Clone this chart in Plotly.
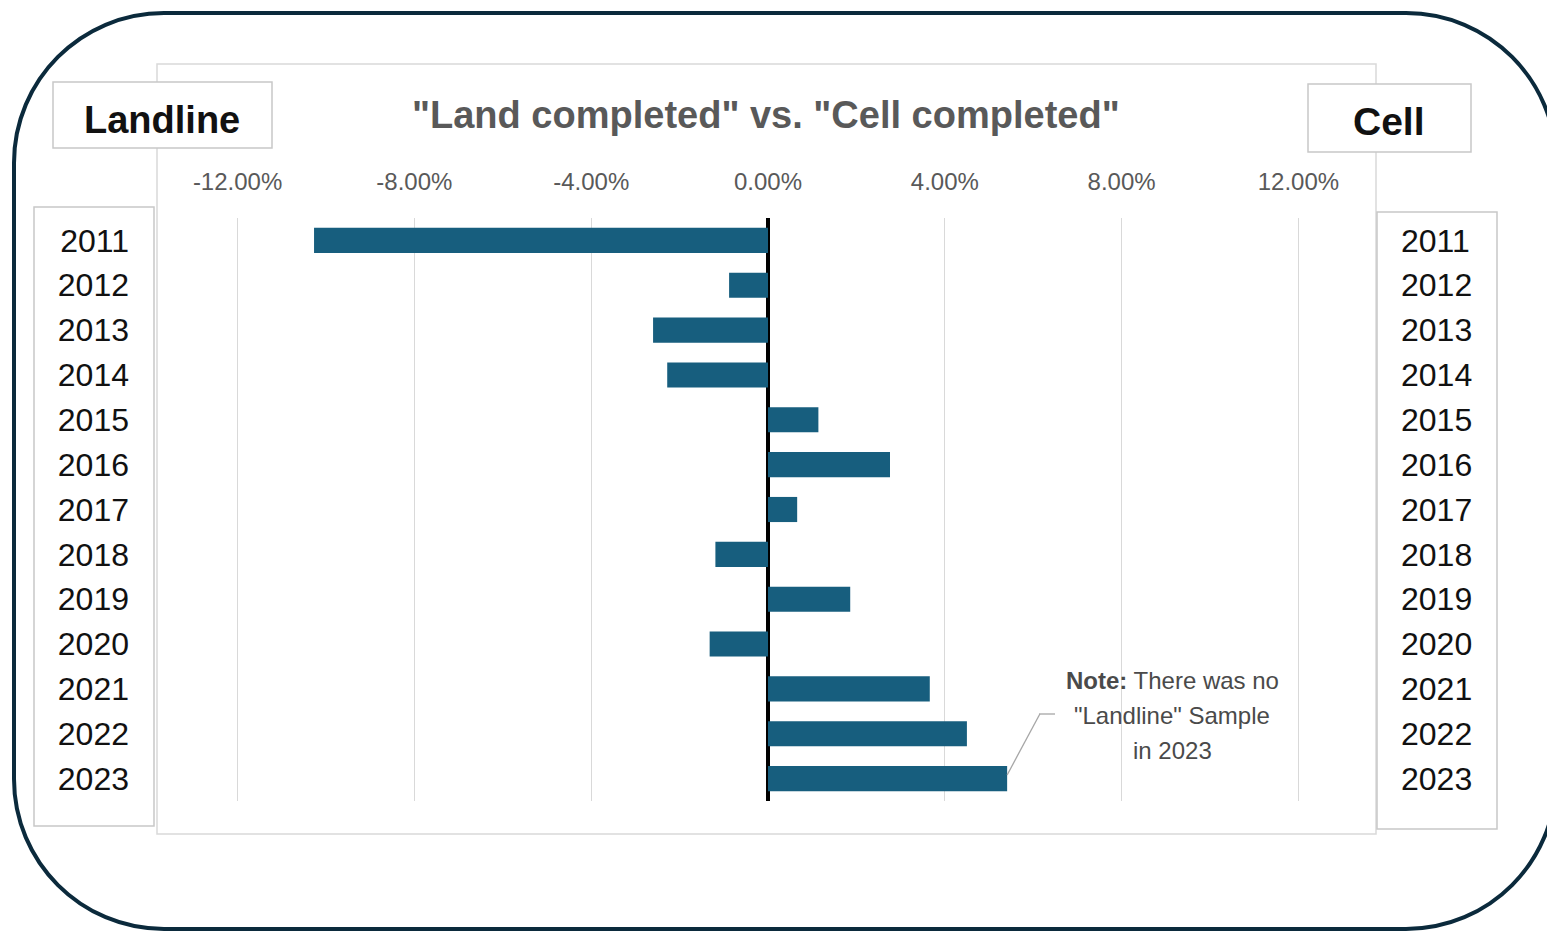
import plotly.graph_objects as go

# ---- data ----
years = ["2011", "2012", "2013", "2014", "2015", "2016", "2017",
         "2018", "2019", "2020", "2021", "2022", "2023"]
diff_pct = [-10.27, -0.88, -2.60, -2.28, 1.14, 2.76, 0.66,
            -1.19, 1.86, -1.32, 3.66, 4.50, 5.41]
x_ticks = [-0.12, -0.08, -0.04, 0.0, 0.04, 0.08, 0.12]
x_ticktext = ["-12.00%", "-8.00%", "-4.00%", "0.00%", "4.00%", "8.00%", "12.00%"]

title_text = '"Land completed" vs. "Cell completed"'
left_label = "Landline"
right_label = "Cell"
note_lines = ["<b>Note:</b> There was no", '"Landline" Sample', "in 2023"]

values = [v / 100 for v in diff_pct]

W, H = 1547, 932
def px(x):
    return x / W
def py(y):
    return 1 - y / H

BAR = "#175E7E"
GRAY_TXT = "#595959"
BOX = "#c8c8c8"
FONT = "Liberation Sans, Arial, sans-serif"

fig = go.Figure()
fig.add_trace(go.Bar(
    x=values, y=years, orientation="h",
    marker=dict(color=BAR, line=dict(width=0)),
    hoverinfo="x+y", showlegend=False,
))
# invisible companion on the right axis so its year labels render
fig.add_trace(go.Scatter(
    x=values, y=years, yaxis="y2", mode="markers",
    marker=dict(opacity=0, size=1), hoverinfo="skip", showlegend=False,
))

shapes = []
def rounded_rect(x0, y0, x1, y1, r):
    k = 0.5523 * r
    pts = [
        f"M {px(x0 + r)},{py(y0)}",
        f"L {px(x1 - r)},{py(y0)}",
        f"C {px(x1 - r + k)},{py(y0)} {px(x1)},{py(y0 + r - k)} {px(x1)},{py(y0 + r)}",
        f"L {px(x1)},{py(y1 - r)}",
        f"C {px(x1)},{py(y1 - r + k)} {px(x1 - r + k)},{py(y1)} {px(x1 - r)},{py(y1)}",
        f"L {px(x0 + r)},{py(y1)}",
        f"C {px(x0 + r - k)},{py(y1)} {px(x0)},{py(y1 - r + k)} {px(x0)},{py(y1 - r)}",
        f"L {px(x0)},{py(y0 + r)}",
        f"C {px(x0)},{py(y0 + r - k)} {px(x0 + r - k)},{py(y0)} {px(x0 + r)},{py(y0)}",
        "Z",
    ]
    return " ".join(pts)

shapes.append(dict(type="path", xref="paper", yref="paper",
                   path=rounded_rect(14, 13, 1556, 929, 150),
                   line=dict(color="#0B2A3C", width=4), layer="below"))
shapes.append(dict(type="rect", xref="paper", yref="paper",
                   x0=px(157), x1=px(1376), y0=py(834), y1=py(64),
                   line=dict(color="#d9d9d9", width=1.5), fillcolor="rgba(0,0,0,0)",
                   layer="below"))
for (x0, y0, x1, y1) in [(53, 82, 272, 148), (1308, 84, 1471, 152),
                         (34, 207, 154, 826), (1377, 212, 1497, 829)]:
    shapes.append(dict(type="rect", xref="paper", yref="paper",
                       x0=px(x0), x1=px(x1), y0=py(y1), y1=py(y0),
                       line=dict(color=BOX, width=1.5), fillcolor="white",
                       layer="below"))
shapes.append(dict(type="line", xref="x", yref="paper",
                   x0=values[-1], y0=py(775), x1=0.0615, y1=py(714),
                   line=dict(color="#a6a6a6", width=1.3)))
shapes.append(dict(type="line", xref="paper", yref="paper",
                   x0=px(1039), y0=py(714), x1=px(1055), y1=py(714),
                   line=dict(color="#a6a6a6", width=1.3)))

annotations = [
    dict(text=f"<b>{title_text}</b>", x=px(766), y=py(115), xref="paper", yref="paper",
         showarrow=False, xanchor="center", yanchor="middle",
         font=dict(family=FONT, size=38, color=GRAY_TXT)),
    dict(text=f"<b>{left_label}</b>", x=px(162), y=py(120), xref="paper", yref="paper",
         showarrow=False, xanchor="center", yanchor="middle",
         font=dict(family=FONT, size=38, color="#111111")),
    dict(text=f"<b>{right_label}</b>", x=px(1389), y=py(122), xref="paper", yref="paper",
         showarrow=False, xanchor="center", yanchor="middle",
         font=dict(family=FONT, size=39, color="#111111")),
]
for i, line in enumerate(note_lines):
    annotations.append(dict(text=line, x=px(1172), y=py(680 + 35 * i),
                            xref="paper", yref="paper", showarrow=False,
                            xanchor="center", yanchor="middle",
                            font=dict(family=FONT, size=24, color="#4a4a4a")))

n = len(years)
fig.update_layout(
    width=W, height=H, autosize=False,
    margin=dict(l=0, r=0, t=0, b=0),
    paper_bgcolor="white", plot_bgcolor="rgba(0,0,0,0)",
    bargap=0.44,
    shapes=shapes, annotations=annotations,
    xaxis=dict(
        domain=[px(158), px(1378)], range=[-0.138, 0.138],
        side="top", tickvals=x_ticks, ticktext=x_ticktext,
        showgrid=True, gridcolor="#d9d9d9", gridwidth=1,
        zeroline=True, zerolinecolor="black", zerolinewidth=3.5,
        showline=False, ticks="",
        tickfont=dict(family=FONT, size=24, color=GRAY_TXT),
        ticklabelstandoff=22, fixedrange=True,
    ),
    yaxis=dict(
        domain=[py(801), py(218)], type="category",
        categoryorder="array", categoryarray=years,
        range=[n - 0.5, -0.5], autorange=False,
        showgrid=False, zeroline=False, showline=False, ticks="",
        tickfont=dict(family=FONT, size=32, color="#111111"),
        ticklabelstandoff=28, fixedrange=True,
    ),
    yaxis2=dict(
        overlaying="y", side="right", matches="y", type="category",
        categoryorder="array", categoryarray=years,
        showgrid=False, zeroline=False, showline=False, ticks="",
        tickfont=dict(family=FONT, size=32, color="#111111"),
        ticklabelstandoff=22, fixedrange=True,
    ),
)

fig.write_html("out.html")
